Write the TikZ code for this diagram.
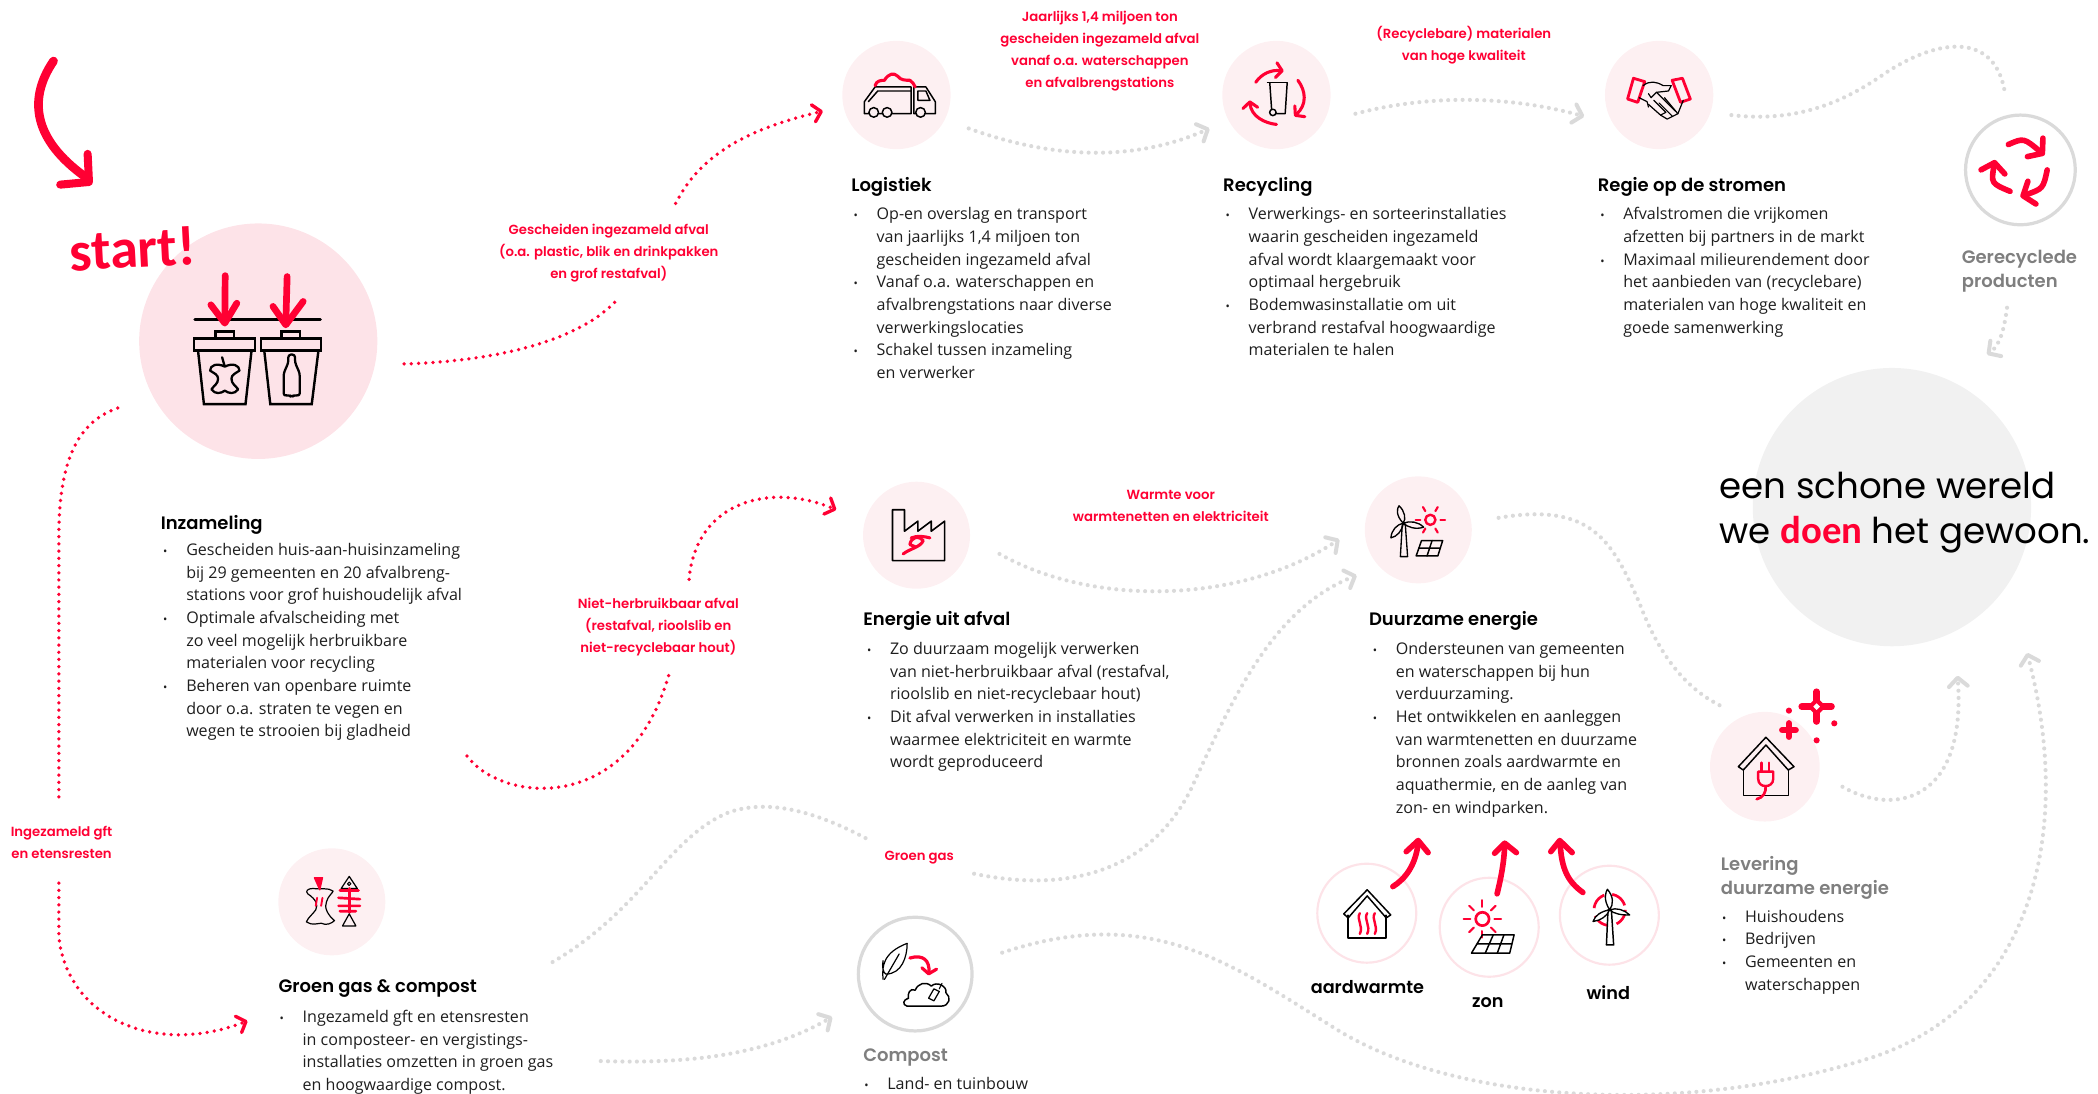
\documentclass[tikz,border=0pt]{standalone}
\usepackage{fontspec}
\usetikzlibrary{arrows.meta,shapes.geometric}
\setmainfont{Open Sans}
\newfontfamily\hf[BoldFont={Poppins SemiBold}]{Poppins}
\newfontfamily\hand[ItalicFont={Carlito Bold Italic},BoldFont={Carlito Bold}]{Carlito}
\definecolor{rd}{HTML}{FF0033}
\definecolor{pk}{HTML}{FDE3E8}
\definecolor{pl}{HTML}{FDF0F2}
\definecolor{gd}{HTML}{DADADA}
\definecolor{gt}{HTML}{7F7F7F}
\definecolor{bg}{HTML}{F1F1F1}
\definecolor{tx}{HTML}{1E1E1E}
\newcommand{\bu}{\llap{{\fontsize{8.5}{8.5}\selectfont •}\hspace{14pt}}}
\newcommand{\fs}{\rule{0pt}{12pt}}
\tikzset{
 blob/.style={ellipse,draw=none,inner sep=0pt,fill=pl,minimum width=80pt,minimum height=80pt},
 ring/.style={ellipse,fill=white,inner sep=0pt,minimum width=74pt,minimum height=74pt,draw=pk,line width=1.6pt},
 gring/.style={ellipse,fill=white,inner sep=0pt,minimum width=82pt,minimum height=82pt,draw=gd,line width=2.4pt},
 body/.style={anchor=north west,inner sep=0pt,align=left,text=tx,font=\fontsize{12}{16.95}\selectfont},
 head/.style={anchor=west,inner sep=0pt,align=left,text=black,font=\hf\bfseries\fontsize{13.45}{18}\selectfont},
 ghead/.style={head,text=gt},
 lab/.style={inner sep=0pt,align=center,text=rd,font=\hf\bfseries\fontsize{9.9}{16.4}\selectfont},
 src/.style={inner sep=0pt,text=black,font=\hf\bfseries\fontsize{13.2}{16}\selectfont},
 rdots/.style={draw=rd,line width=2.8pt,line cap=round,dash pattern=on 0pt off 5.4pt},
 gdots/.style={draw=gd,line width=3.1pt,line cap=round,dash pattern=on 0pt off 5.4pt},
 rtip/.style={-{Straight Barb[length=6pt,width=13pt,line width=2.5pt,round]}},
 gtip/.style={-{Straight Barb[length=6.5pt,width=14pt,line width=3pt,round]}},
 ic/.style={draw=black,line width=1.1pt,line join=round,line cap=round},
 icb/.style={draw=black,line width=1.8pt,line join=miter},
 icr/.style={draw=rd,line width=2.3pt,line join=round,line cap=round},
 icrb/.style={draw=rd,line width=4.2pt,line join=round,line cap=round},
}
\begin{document}
\begin{tikzpicture}[x=1pt,y=-1pt]
\useasboundingbox (0,0) rectangle (1568,816.9);
% backgrounds
\node[blob,fill=bg,minimum width=208pt,minimum height=208pt] (bigB) at (1414,379) {};
\node[blob,fill=pk,minimum width=178pt,minimum height=176pt] (inzB) at (193,255) {};
\node[blob,minimum width=81pt,minimum height=81pt] (logB) at (670,71) {};
\node[blob,minimum width=81pt,minimum height=81pt] (recB) at (954,71) {};
\node[blob,minimum width=81pt,minimum height=81pt] (regB) at (1240,71) {};
\node[blob] (eneB) at (685,400) {};
\node[blob] (duuB) at (1060,396) {};
\node[blob] (groB) at (248,674) {};
\node[blob,minimum width=82pt,minimum height=82pt] (levB) at (1319,573) {};
\node[gring] (gerB) at (1510,127) {};
\node[gring,minimum width=85pt,minimum height=85pt] (comB) at (684,728) {};
\node[ring] (aarB) at (1021.5,682.5) {};
\node[ring] (zonB) at (1113,693) {};
\node[ring] (winB) at (1202.8,684) {};

% coordinates for connector ends
\coordinate (a1) at (302,272); \coordinate (a2) at (463,222);
\coordinate (b1) at (505,152); \coordinate (b2) at (615,83);
\coordinate (c1) at (88,305);  \coordinate (c2) at (44,597);
\coordinate (d1) at (44,660);  \coordinate (d2) at (185,763);
\coordinate (e1) at (349,565); \coordinate (e2) at (500,504);
\coordinate (f1) at (515,433); \coordinate (f2) at (625,381);
\coordinate (g1) at (724,96);  \coordinate (g2) at (904,96);
\coordinate (h1) at (1013,85); \coordinate (h2) at (1184,87);
\coordinate (i1) at (1294,86); \coordinate (i2) at (1498,67);
\coordinate (j1) at (1500,230);\coordinate (j2) at (1485,265);
\coordinate (k1) at (747,414); \coordinate (k2) at (1001,403);
\coordinate (l1) at (413,719); \coordinate (l2) at (650,628);
\coordinate (m1) at (728,653); \coordinate (m2) at (1014,430);
\coordinate (n1) at (449,793); \coordinate (n2) at (622,760);
\coordinate (o1) at (1120,387);\coordinate (o2) at (1287,528);
\coordinate (p1) at (1377,588);\coordinate (p2) at (1463,505);
\coordinate (q1) at (749,712); \coordinate (q2) at (1515,488);

% red connectors
\draw[rdots] (a1) .. controls (370,270) and (435,255) .. (a2);
\draw[rdots,rtip] (b1) .. controls (525,112) and (565,95) .. (b2);
\draw[rdots] (c1) .. controls (58,315) and (44,345) .. (44,400) -- (c2);
\draw[rdots,rtip] (d1) -- (44,700) .. controls (50,760) and (115,790) .. (d2);
\draw[rdots] (e1) .. controls (375,600) and (470,610) .. (e2);
\draw[rdots,rtip] (f1) .. controls (520,375) and (575,360) .. (f2);
% grey connectors
\draw[gdots,gtip] (g1) .. controls (790,120) and (850,120) .. (g2);
\draw[gdots,gtip] (h1) .. controls (1070,70) and (1130,72) .. (h2);
\draw[gdots] (i1) .. controls (1345,92) and (1380,75) .. (1410,54) .. controls (1450,28) and (1490,25) .. (i2);
\draw[gdots,gtip] (j1) .. controls (1498,245) and (1495,258) .. (j2);
\draw[gdots,gtip] (k1) .. controls (820,455) and (930,450) .. (k2);
\draw[gdots] (l1) .. controls (480,680) and (500,625) .. (545,607) .. controls (580,595) and (620,612) .. (l2);
\draw[gdots,gtip] (m1) .. controls (800,668) and (860,650) .. (890,590) .. controls (920,525) and (950,455) .. (m2);
\draw[gdots,gtip] (n1) .. controls (510,795) and (570,790) .. (n2);
\draw[gdots] (o1) .. controls (1190,375) and (1205,405) .. (1225,450) .. controls (1240,490) and (1260,515) .. (o2);
\draw[gdots,gtip] (p1) .. controls (1415,610) and (1470,600) .. (p2);
\draw[gdots,gtip] (q1) .. controls (860,675) and (920,720) .. (1000,770) .. controls (1090,825) and (1260,835) .. (1400,790) .. controls (1520,750) and (1550,620) .. (q2);

% start arrow and text
\draw[draw=rd,line width=6.5pt,line cap=round,line join=round] (40,45.6) .. controls (20,75) and (26,105) .. (63.5,132);
\draw[draw=rd,line width=6pt,line cap=round,line join=round] (65.5,115) -- (66.5,136) -- (45,138);
\node[inner sep=0pt,text=rd,rotate=3,font=\hand\bfseries\fontsize{42}{42}\selectfont] (startT) at (99,186) {start!};

% bins icon
\draw[draw=black,line width=2.2pt,line cap=round] (145.7,239) -- (239.5,239);
\draw[icb,fill=pk] (145,253) rectangle (190.5,262);
\draw[icb] (161,247.7) rectangle (175,253);
\draw[icb] (148,262) -- (152.4,302) -- (183.5,302) -- (188,262);
\draw[icb,fill=pk] (195,253) rectangle (240,262);
\draw[icb] (210.4,247.7) rectangle (224,253);
\draw[icb] (197.5,262) -- (202,302) -- (233,302) -- (238,262);
\draw[ic,line width=1.7pt] (168,274) .. controls (162,271) and (157,273) .. (157,277) .. controls (160,279) and (163,280) .. (163,283) .. controls (163,287) and (160,288) .. (158,291) .. controls (161,295) and (165,294) .. (168,292) .. controls (171,294) and (175,295) .. (178,291) .. controls (176,288) and (173,287) .. (173,283) .. controls (173,280) and (176,279) .. (179,277) .. controls (179,273) and (174,271) .. (168,274) -- (166,267);
\draw[ic,line width=1.7pt,rounded corners=2pt] (215.5,265) -- (220.5,265) -- (220.5,271) -- (224,279) -- (224,296) -- (220,295) -- (218,297) -- (216,295) -- (212,296) -- (212,279) -- (215.5,271) -- cycle;
\draw[icrb,line width=5pt] (168.3,206) -- (168,241);
\draw[icrb,line width=5pt] (157.6,227.8) -- (168,241.5) -- (177,226.6);
\draw[icrb,line width=5pt] (214.6,206.7) -- (213.6,242);
\draw[icrb,line width=5pt] (204,229) -- (213.6,242.8) -- (226.6,225.3);

% truck
\draw[ic] (646,76) -- (654,65) -- (681,65) -- (681,85) -- (646,85) -- cycle;
\draw[ic] (649,76) -- (656,68) -- (681,68);
\draw[ic] (683,65) -- (692,65) -- (699,76) -- (699,85) -- (683,85) -- cycle;
\draw[ic] (686,68) -- (692,68) -- (695,75) -- (686,75) -- cycle;
\foreach \wx in {653,663,688} \draw[ic,fill=pl] (\wx,84) circle[radius=3.6];
\draw[icr] (654,64) .. controls (655,60) and (659,60) .. (661,60) .. controls (664,55) and (668,54) .. (671,57) .. controls (673,60) and (677,60) .. (680,60) .. controls (682,61) and (683,63) .. (684,65);

% recycling bin
\draw[ic] (947.3,61.5) -- (962,61.5);
\draw[ic] (949,62) -- (950.6,85) -- (960.5,85) -- (962,62);
\draw[ic,fill=pl] (951.3,84) circle[radius=2.4];
\draw[icr,-{Straight Barb[length=4.5pt,width=11pt,line width=2.3pt,round]}] (938.5,61.5) .. controls (943,55) and (950,52) .. (959.4,53);
\draw[icr,-{Straight Barb[length=4.5pt,width=11pt,line width=2.3pt,round]}] (970,60) .. controls (976,68) and (977,78) .. (967.3,87);
\draw[icr,-{Straight Barb[length=4.5pt,width=11pt,line width=2.3pt,round]}] (954,93) .. controls (945,92) and (935,87) .. (934,75);

% handshake
\draw[icr,line width=2.1pt,fill=pl] (1220.8,58.5) -- (1229.2,61) -- (1224,76.5) -- (1216.4,74) -- cycle;
\draw[icr,line width=2.1pt,fill=pl] (1249.7,60) -- (1257.4,58.5) -- (1263.3,74) -- (1256,76.5) -- cycle;
\draw[ic,line width=.9pt] (1228,64) .. controls (1233,60) and (1238,61) .. (1243,64) -- (1249,64);
\draw[ic,line width=.9pt] (1249,64) -- (1247,68) -- (1238,69) -- (1234,73) -- (1232,70);
\draw[ic,line width=.9pt] (1225,73) -- (1231,76) -- (1232,80);
\draw[ic,line width=.9pt] (1232,78) -- (1241,86) -- (1245,84) -- (1236,75);
\draw[ic,line width=.9pt] (1241,86) -- (1246,89) -- (1250,87) -- (1240,77);
\draw[ic,line width=.9pt] (1250,87) -- (1254,85) -- (1244,73);
\draw[ic,line width=.9pt] (1254,85) -- (1258,75);
\draw[ic,line width=.9pt] (1238,69) -- (1252,83);

% recycled arrows
\foreach \ax/\ay/\bx/\by/\cx/\cy in {-9/-19/2.5/-24/18/-11, 20/0/17/14/0/20, -7.7/16/-22/10/-19/-7.5}
 \draw[icr,line width=4.2pt,-{Straight Barb[length=7pt,width=18pt,line width=4.2pt,round]}] (1510+\ax,127+\ay) .. controls (1510+\bx,127+\by) .. (1510+\cx,127+\cy);

% factory
\draw[ic,line width=1.2pt] (667,419) -- (667,381) -- (676,381) -- (676,397) -- (686,389.5) -- (686,397) -- (696,389.5) -- (696,397) -- (706,389.5) -- (706,419) -- cycle;
\draw[icr] (675,414) .. controls (680,410) and (688,409) .. (690,404) .. controls (687,400) and (681,401) .. (680,407) -- (685,409);
\draw[icr] (681,402) .. controls (686,400) and (691,401) .. (695,402);

% wind + sun + panel
\draw[ic,line width=1pt] (1046.6,416) -- (1048,392) -- (1050.3,392) -- (1052,416) -- cycle;
\draw[ic,line width=1pt] (1048.7,391) .. controls (1043,385) and (1044,380) .. (1045.6,378) .. controls (1050,382) and (1051,388) .. (1048.7,391) .. controls (1054,389) and (1060,390) .. (1064,394) .. controls (1058,396) and (1052,394) .. (1048.7,391) .. controls (1048,397) and (1044,401) .. (1039.5,402) .. controls (1040,396) and (1044,392) .. (1048.7,391);
\draw[icr,line width=1.8pt] (1069,388.5) circle[radius=3.8];
\foreach \ang in {0,60,120,180,240,300} \draw[icr,line width=1.6pt] ([shift={(\ang:7.5)}]1069,388.5) -- ([shift={(\ang:11)}]1069,388.5);
\draw[ic] (1062.4,404) -- (1078.2,404) -- (1074.6,415.5) -- (1058.4,415.5) -- cycle;
\draw[ic] (1060.4,409.7) -- (1076.4,409.7) (1070.3,404) -- (1066.5,415.5);

% green gas icon
\draw[ic,line width=.9pt] (234,664) .. controls (230,664) and (228,666) .. (230,668) .. controls (236,672) and (238,676) .. (236,680) .. controls (234,683) and (230,686) .. (229,689) .. controls (233,692) and (238,690) .. (240,690) .. controls (244,692) and (248,690) .. (250,688) .. controls (245,684) and (242,678) .. (244,674) .. controls (245,670) and (248,668) .. (249,666) .. controls (245,663) and (240,665) .. (234,664);
\draw[icr,fill=rd,line width=1pt] (235,656) -- (241,656) -- (239,665) -- cycle;
\draw[icr,line width=1.4pt] (237,671) -- (236,677) (241,671) -- (240,677);
\draw[ic,line width=.9pt] (261,655) -- (267,664) -- (255,664) -- cycle;
\draw[ic,line width=.8pt] (261,660.5) circle[radius=1.3];
\draw[icr,line width=2pt] (261,664) -- (261,682);
\draw[icr,line width=2pt] (254,665.5) -- (268,665.5) (253,671) -- (269,672) (253,677) -- (269,677) (254,681) -- (266,681);
\draw[ic,line width=.9pt] (261,683) -- (266,692) -- (256,692) -- cycle;

% compost icon
\draw[ic,line width=.9pt] (660,732) .. controls (659,722) and (660,712) .. (678,705) .. controls (678,715) and (674,728) .. (662,728) .. controls (660,727) and (659,722) .. (660,718);
\draw[ic,line width=.9pt] (661,732) -- (672,713);
\draw[icr,line width=2.4pt,-{Straight Barb[length=4pt,width=11pt,line width=2.4pt,round]}] (680,716) .. controls (690,713) and (695,718) .. (694,729);
\draw[ic] (678,752) -- (703,752) .. controls (710,752) and (711,745) .. (707,742) .. controls (708,737) and (700,733) .. (696,737) .. controls (692,733) and (686,735) .. (684,740) .. controls (680,738) and (678,743) .. (679,746) .. controls (675,747) and (674,751) .. (678,752) -- cycle;
\draw[ic,line width=.9pt,fill=white] (694,746) -- (698,739) -- (702,741) -- (698,748) -- cycle;
\draw[ic,line width=.9pt] (702,739) -- (704,735);

% aardwarmte icon
\draw[ic] (1004.3,683) -- (1021.8,665) -- (1039.4,683.8) -- (1036,686) -- (1021.8,669.6) -- (1007.6,686) -- cycle;
\draw[ic] (1007.6,684) -- (1007.6,701.2) -- (1035.7,701.2) -- (1035.7,684);
\foreach \hx in {1016.3,1021.8,1027.5} \draw[icr,line width=1.8pt] (\hx,682.5) .. controls (\hx-3,687) and (\hx+3,692) .. (\hx,698);
% zon icon
\draw[icr,line width=2pt] (1107.9,686.8) circle[radius=5];
\foreach \ang in {0,45,...,315} \draw[icr,line width=1.5pt] ([shift={(\ang:9)}]1107.9,686.8) -- ([shift={(\ang:14)}]1107.9,686.8);
\draw[ic] (1107.9,698.7) -- (1131.6,698.7) -- (1128.3,712.4) -- (1099.7,712.4) -- cycle;
\draw[ic] (1104,705.5) -- (1130,705.5) (1116,698.7) -- (1110,712.4) (1124,698.7) -- (1119,712.4);
% wind icon
\draw[icr,line width=2pt,dash pattern=on 13pt off 6pt,line cap=butt] (1203,680) circle[radius=11.7];
\draw[ic,fill=white] (1200.6,706.2) -- (1201.8,680) -- (1204.3,680) -- (1206,706.2) -- cycle;
\draw[ic,line width=1pt,fill=white] (1203,680) .. controls (1198,672) and (1200,667) .. (1201.3,664.6) .. controls (1206,670) and (1206,676) .. (1203,680) .. controls (1208,678) and (1214,680) .. (1218,683.8) .. controls (1212,684) and (1206,683) .. (1203,680) .. controls (1201,685) and (1196,688) .. (1190.6,688.7) .. controls (1192,684) and (1197,681) .. (1203,680);
% red arrows over source rings
\draw[icrb] (1041,662.6) .. controls (1050,657) and (1058,647) .. (1059.9,630);
\draw[icrb] (1051,636.5) -- (1059.9,628.2) -- (1067.3,637.2);
\draw[icrb] (1118.9,668) .. controls (1122,655) and (1124,645) .. (1124.6,631.5);
\draw[icrb] (1117,637.7) -- (1124.6,630.2) -- (1133.3,637.2);
\draw[icrb] (1183,667) .. controls (1172,659) and (1167,650) .. (1166,630);
\draw[icrb] (1159,636.5) -- (1165.7,628.2) -- (1175,637.2);

% levering icon
\draw[ic] (1299.2,573) -- (1319.8,551) -- (1340.8,573) -- (1336.5,575.5) -- (1319.8,556.8) -- (1302.9,575.5) -- cycle;
\draw[ic] (1302.9,575) -- (1302.9,594.6) -- (1336.5,594.6) -- (1336.5,575);
\draw[icr,line width=1.8pt,fill=pl] (1314,576.7) -- (1325.3,576.7) -- (1325.3,582) .. controls (1325.3,586) and (1322,587.5) .. (1319.6,587.5) .. controls (1317,587.5) and (1314,586) .. (1314,582) -- cycle;
\draw[icr,line width=1.8pt] (1316.6,570) -- (1316.6,576.7) (1322.3,570) -- (1322.3,576.7);
\draw[icr,line width=2pt] (1319.6,587.5) .. controls (1320,592) and (1318,596) .. (1312.9,597.3);
% sparkles
\draw[rd,line width=5pt,line cap=round] (1357.7,517) -- (1357.7,539.2) (1346.6,528.1) -- (1368.8,528.1);
\fill[rd] (1357.7,521) -- (1364.8,528.1) -- (1357.7,535.2) -- (1350.6,528.1) -- cycle;
\fill[white] (1357.7,525.6) -- (1360.2,528.1) -- (1357.7,530.6) -- (1355.2,528.1) -- cycle;
\draw[rd,line width=4.6pt,line cap=round] (1337,540.5) -- (1337,550.7) (1331.9,545.6) -- (1342.1,545.6);
\fill[rd] (1337,531.1) circle[radius=2.3] (1370.9,540.6) circle[radius=2.3] (1357.7,553.3) circle[radius=2.3];

% red labels
\node[lab] (lJaar) at (822,38.5) {Jaarlijks 1,4 miljoen ton\\gescheiden ingezameld afval\\vanaf o.a. waterschappen\\en afvalbrengstations};
\node[lab] (lRecy) at (1094,34) {(Recyclebare) materialen\\van hoge kwaliteit};
\node[lab] (lGesc) at (455,189) {Gescheiden ingezameld afval\\(o.a. plastic, blik en drinkpakken\\en grof restafval)};
\node[lab] (lNiet) at (492,468.5) {Niet-herbruikbaar afval\\(restafval, rioolslib en\\niet-recyclebaar hout)};
\node[lab] (lWarm) at (875,378) {Warmte voor\\warmtenetten en elektriciteit};
\node[lab] (lGroe) at (687,641) {Groen gas};
\node[lab] (lGft) at (46,629.5) {Ingezameld gft\\en etensresten};

% headings
\node[head] (hLog) at (636,140) {Logistiek};
\node[head] (hRec) at (914,140) {Recycling};
\node[head] (hReg) at (1194,140) {Regie op de stromen};
\node[head] (hInz) at (120,392) {Inzameling};
\node[head] (hEne) at (645,464) {Energie uit afval};
\node[head] (hDuu) at (1023,464) {Duurzame energie};
\node[head] (hGro) at (208,739) {Groen gas \& compost};
\node[ghead] (hCom) at (645,790) {Compost};
\node[ghead] (hGer) at (1466,203) {Gerecyclede\\producten};
\node[ghead] (hLev) at (1286,656) {Levering\\duurzame energie};

% body text
\node[body] (tLog) at (655,152) {\fs\bu Op-en overslag en transport\\van jaarlijks 1,4 miljoen ton\\gescheiden ingezameld afval\\\bu Vanaf o.a. waterschappen en\\afvalbrengstations naar diverse\\verwerkingslocaties\\\bu Schakel tussen inzameling\\en verwerker};
\node[body] (tRec) at (933,152) {\fs\bu Verwerkings- en sorteerinstallaties\\waarin gescheiden ingezameld\\afval wordt klaargemaakt voor\\optimaal hergebruik\\\bu Bodemwasinstallatie om uit\\verbrand restafval hoogwaardige\\materialen te halen};
\node[body] (tReg) at (1213,152) {\fs\bu Afvalstromen die vrijkomen\\afzetten bij partners in de markt\\\bu Maximaal milieurendement door\\het aanbieden van (recyclebare)\\materialen van hoge kwaliteit en\\goede samenwerking};
\node[body] (tInz) at (139,403) {\fs\bu Gescheiden huis-aan-huisinzameling\\bij 29 gemeenten en 20 afvalbreng-\\stations voor grof huishoudelijk afval\\\bu Optimale afvalscheiding met\\zo veel mogelijk herbruikbare\\materialen voor recycling\\\bu Beheren van openbare ruimte\\door o.a. straten te vegen en\\wegen te strooien bij gladheid};
\node[body] (tEne) at (665,477) {\fs\bu Zo duurzaam mogelijk verwerken\\van niet-herbruikbaar afval (restafval,\\rioolslib en niet-recyclebaar hout)\\\bu Dit afval verwerken in installaties\\waarmee elektriciteit en warmte\\wordt geproduceerd};
\node[body] (tDuu) at (1043,477) {\fs\bu Ondersteunen van gemeenten\\en waterschappen bij hun\\verduurzaming.\\\bu Het ontwikkelen en aanleggen\\van warmtenetten en duurzame\\bronnen zoals aardwarmte en\\aquathermie, en de aanleg van\\zon- en windparken.};
\node[body] (tGro) at (226,752) {\fs\bu Ingezameld gft en etensresten\\in composteer- en vergistings-\\installaties omzetten in groen gas\\en hoogwaardige compost.};
\node[body] (tCom) at (663,802) {\fs\bu Land- en tuinbouw};
\node[body] (tLev) at (1304,677) {\fs\bu Huishoudens\\\bu Bedrijven\\\bu Gemeenten en\\waterschappen};

% source labels
\node[src] (sAar) at (1022,738) {aardwarmte};
\node[src] (sZon) at (1112,749) {zon};
\node[src] (sWin) at (1202,742) {wind};

% slogan
\node[inner sep=0pt,anchor=north west,align=left,text=black,font=\hf\fontsize{26.6}{33}\selectfont] (slog) at (1285,353) {een schone wereld\\we {\hand\bfseries\color{rd}\fontsize{29}{33}\selectfont doen} het gewoon.};
\end{tikzpicture}
\end{document}
